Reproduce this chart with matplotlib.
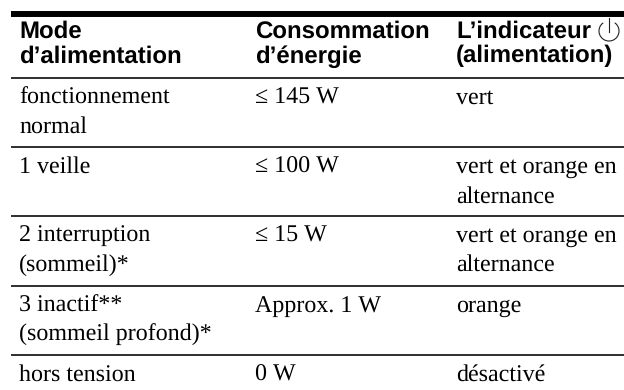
import matplotlib
matplotlib.use('Agg')
import matplotlib.pyplot as plt
from matplotlib.patches import Arc

plt.rcParams['text.hinting'] = 'none'
plt.rcParams['text.hinting_factor'] = 1

# Table content
headers = [["Mode", "d’alimentation"],
           ["Consommation", "d’énergie"],
           ["L’indicateur", "(alimentation)"]]
modes = [["fonctionnement", "normal"],
         ["1 veille"],
         ["2 interruption", "(sommeil)*"],
         ["3 inactif**", "(sommeil profond)*"],
         ["hors tension"]]
power = [["≤ 145 W"], ["≤ 100 W"], ["≤ 15 W"], ["Approx. 1 W"], ["0 W"]]
indicator = [["vert"],
             ["vert et orange en", "alternance"],
             ["vert et orange en", "alternance"],
             ["orange"],
             ["désactivé"]]

col_x = [19, 255, 456]
rule_y = [77.5, 147, 215.5, 285.5, 355]
header_y = [38, 62.5]
line_gap = 29.5
body_size = 17.1
header_size = 17.1

fig = plt.figure(figsize=(6.24, 3.9), dpi=100, facecolor='white')
ax = fig.add_axes([0, 0, 1, 1])
ax.set_xlim(0, 624)
ax.set_ylim(390, 0)
ax.axis('off')

# Rules
ax.plot([11, 624], [14, 14], color='black', lw=4.3, solid_capstyle='butt')
for y in rule_y:
    ax.plot([11, 624], [y, y], color='black', lw=1.15, solid_capstyle='butt')

# Header
for x, lines in zip(col_x, headers):
    for y, line in zip(header_y, lines):
        ax.text(x, y, line, family='Liberation Sans', weight='bold',
                fontsize=header_size, color='black', va='baseline', ha='left')

# Power symbol next to the third header
ax.add_patch(Arc((609, 31), 20, 20, theta1=-55, theta2=235,
                 color='#222222', lw=0.8))
ax.plot([609, 609], [18, 32], color='#222222', lw=0.8)

# Body
for x, column in zip(col_x, [modes, power, indicator]):
    for top, cell in zip(rule_y, column):
        for i, line in enumerate(cell):
            ax.text(x, top + 26 + i * line_gap, line, family='Liberation Serif',
                    fontsize=body_size, color='black', va='baseline', ha='left')

fig.savefig('out.png', dpi=100, facecolor='white')
